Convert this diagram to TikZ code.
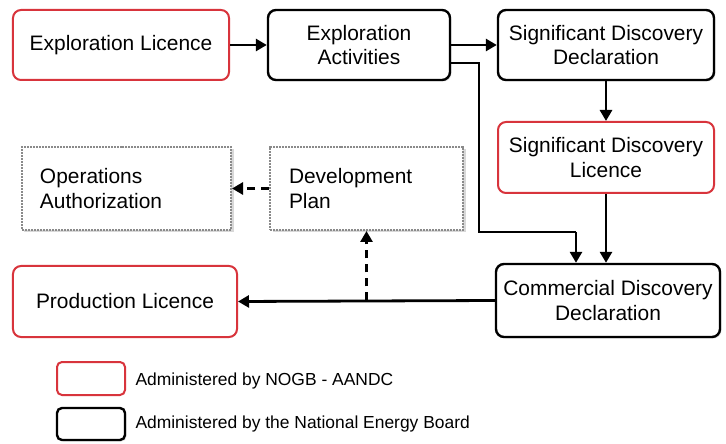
\documentclass[tikz,border=0pt]{standalone}
\usepackage{fontspec}
\setmainfont{Liberation Sans}
\usetikzlibrary{arrows.meta,shadows}
\definecolor{nogb}{HTML}{D8343C}
\definecolor{dotgray}{HTML}{8A8A8A}
\begin{document}
\begin{tikzpicture}[x=1bp,y=-1bp,
  every node/.style={font=\fontsize{21}{25}\selectfont},
  boxbase/.style={rectangle, rounded corners=8bp, align=center, inner sep=2bp, fill=white},
  redbox/.style={boxbase, draw=nogb, line width=2bp},
  blackbox/.style={boxbase, draw=black, line width=2.4bp,
    drop shadow={opacity=0.2, shadow xshift=1.5bp, shadow yshift=-1.5bp}},
  dotbox/.style={rectangle, draw=dotgray, densely dotted, line width=2bp, fill=white,
    align=left, inner ysep=2bp, drop shadow={opacity=0.3, shadow xshift=2.5bp, shadow yshift=-2.5bp}},
  conn/.style={line width=2.8bp, -{Triangle[length=11bp,width=12bp]}},
  dconn/.style={conn, dash pattern=on 8bp off 6bp},
  legtext/.style={anchor=west, font=\fontsize{17.5}{20}\selectfont}]
\useasboundingbox (0,0) rectangle (726,444);
\fill[white] (0,0) rectangle (726,444);

\node[redbox, minimum width=216bp, minimum height=70bp] (el) at (121,45) {Exploration Licence};
\node[blackbox, minimum width=182bp, minimum height=70bp] (ea) at (359,45) {Exploration\\Activities};
\node[blackbox, minimum width=216bp, minimum height=70bp] (sdd) at (606,45) {Significant Discovery\\Declaration};
\node[redbox, minimum width=216bp, minimum height=71bp] (sdl) at (606,157.5) {Significant Discovery\\Licence};
\node[dotbox, minimum height=83bp, inner xsep=18bp, text width=173bp] (oa) at (126.5,188.5) {Operations\\Authorization};
\node[dotbox, minimum height=83bp, inner xsep=19bp, text width=155bp] (dp) at (366.5,188.5) {Development\\Plan};
\node[blackbox, minimum width=224bp, minimum height=73bp] (cdd) at (608,300.5) {Commercial Discovery\\Declaration};
\node[redbox, minimum width=224bp, minimum height=71bp] (pl) at (125,301.5) {Production Licence};

\node[redbox, rounded corners=5bp, minimum width=68bp, minimum height=33bp] (lr) at (91,378.5) {};
\node[blackbox, rounded corners=5bp, minimum width=68bp, minimum height=32bp] (lb) at (91,424) {};
\node[legtext] (lrt) at (132,381) {Administered by NOGB - AANDC};
\node[legtext] (lbt) at (132,424) {Administered by the National Energy Board};

\coordinate (a2) at (479,63);
\coordinate (a1) at (ea.east |- a2);
\coordinate (a3) at (479,232);
\coordinate (a4) at (576,232);
\coordinate (j) at (dp.south |- cdd.west);

\draw[conn] (el.east) -- (ea.west);
\draw[conn] (ea.east) -- (sdd.west);
\draw[line width=2.8bp] (a1) -- (a2) -- (a3) -- (a4);
\draw[conn] (a4) -- (a4 |- cdd.north);
\draw[conn] (sdd.south) -- (sdl.north);
\draw[conn] (sdl.south) -- (sdl.south |- cdd.north);
\draw[conn] (cdd.west) -- (pl.east);
\draw[dconn] (j) -- (dp.south);
\draw[dconn] (dp.west) -- (oa.east);
\end{tikzpicture}
\end{document}
